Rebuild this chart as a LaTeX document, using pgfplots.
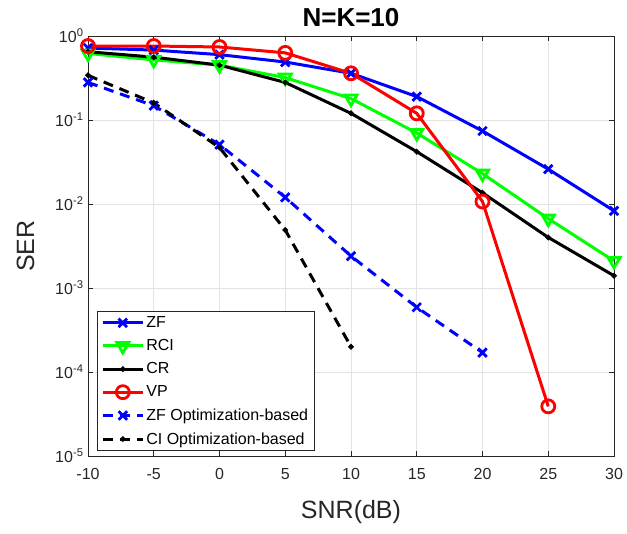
\documentclass[border=0pt]{standalone}
\usepackage{fontspec}
\setmainfont{Liberation Sans}
\usepackage{pgfplots}
\pgfplotsset{compat=1.18}
\definecolor{mblue}{RGB}{0,0,255}
\definecolor{mgreen}{RGB}{0,255,0}
\definecolor{mred}{RGB}{255,0,0}
\definecolor{axcol}{RGB}{38,38,38}
\begin{document}
\begin{tikzpicture}
\begin{axis}[
  name=ax, at={(0,0)}, anchor=south west,
  scale only axis, width=526bp, height=420bp,
  ymode=log, log basis y=10,
  xmin=-10, xmax=30, ymin=1e-5, ymax=1,
  xtick={-10,-5,0,5,10,15,20,25,30},
  xticklabels={-10,-5,0,5,10,15,20,25,30},
  ytick={1e-5,1e-4,1e-3,1e-2,1e-1,1},
  yticklabel={10\textsuperscript{\pgfmathparse{int(round(\tick))}\pgfmathresult}},
  tick label style={font=\fontsize{16bp}{19bp}\selectfont, text=axcol},
  xticklabel style={yshift=-9bp},
  yticklabel style={xshift=-1bp},
  xmajorgrids, ymajorgrids, yminorgrids,
  major grid style={gray!22, line width=0.6bp},
  minor grid style={gray!45, dotted, line width=0.6bp},
  axis line style={axcol, line width=0.8bp},
  tick style={axcol, line width=0.8bp},
  tick align=inside,
  major tick length=5bp, minor tick length=3bp,
  title={\bfseries N=K=10},
  title style={font=\fontsize{26bp}{30bp}\selectfont\bfseries, yshift=0bp},
  xlabel={SNR(dB)}, ylabel={SER},
  label style={font=\fontsize{25bp}{29bp}\selectfont, text=axcol},
  xlabel style={yshift=-14bp},
  ylabel style={yshift=14bp},
  legend cell align=left,
  legend style={at={(0.017,0.012)}, anchor=south west,
    font=\fontsize{16bp}{19bp}\selectfont,
    draw=axcol, line width=0.8bp, inner xsep=4bp, inner ysep=3bp,
    row sep=6.5bp},
  legend image code/.code={\draw[mark repeat=2,mark phase=2] plot coordinates {(0bp,0bp) (20bp,0bp) (40bp,0bp)};},
]
% ZF
\addplot[mblue, line width=3bp, mark=x, mark size=6bp, mark options={solid, line width=2.8bp}]
  coordinates {(-10,0.72) (-5,0.68) (0,0.60) (5,0.49) (10,0.36) (15,0.19) (20,0.074) (25,0.026) (30,0.0083)};
\addlegendentry{ZF}
% RCI
\addplot[mgreen, line width=3bp, mark=triangle, mark size=7bp, mark options={solid, rotate=180, line width=2.8bp}]
  coordinates {(-10,0.62) (-5,0.52) (0,0.45) (5,0.32) (10,0.18) (15,0.07) (20,0.023) (25,0.0067) (30,0.0021)};
\addlegendentry{RCI}
% CR
\addplot[black, line width=3bp, mark=*, mark size=1bp]
  coordinates {(-10,0.65) (-5,0.56) (0,0.45) (5,0.28) (10,0.12) (15,0.042) (20,0.0136) (25,0.004) (30,0.0014)};
\addlegendentry{CR}
% VP
\addplot[mred, line width=3bp, mark=o, mark size=6.5bp, mark options={solid, line width=2.8bp}]
  coordinates {(-10,0.76) (-5,0.76) (0,0.74) (5,0.63) (10,0.36) (15,0.12) (20,0.0107) (25,3.9e-5)};
\addlegendentry{VP}
% ZF optimization
\addplot[mblue, line width=3bp, dash pattern=on 10bp off 7bp, mark=x, mark size=6bp, mark options={solid, line width=2.8bp}]
  coordinates {(-10,0.28) (-5,0.148) (0,0.051) (5,0.012) (10,0.0024) (15,5.9e-4) (20,1.7e-4)};
\addlegendentry{ZF Optimization-based}
% CI optimization
\addplot[black, line width=3bp, dash pattern=on 10bp off 7bp, mark=*, mark size=1bp, mark options={solid}]
  coordinates {(-10,0.34) (-5,0.16) (0,0.047) (5,0.0049) (10,2e-4)};
\addlegendentry{CI Optimization-based}
\end{axis}
\pgfresetboundingbox
\path (ax.south west) ++(-88bp,-78bp) rectangle ++(627bp,534bp);
\end{tikzpicture}
\end{document}
